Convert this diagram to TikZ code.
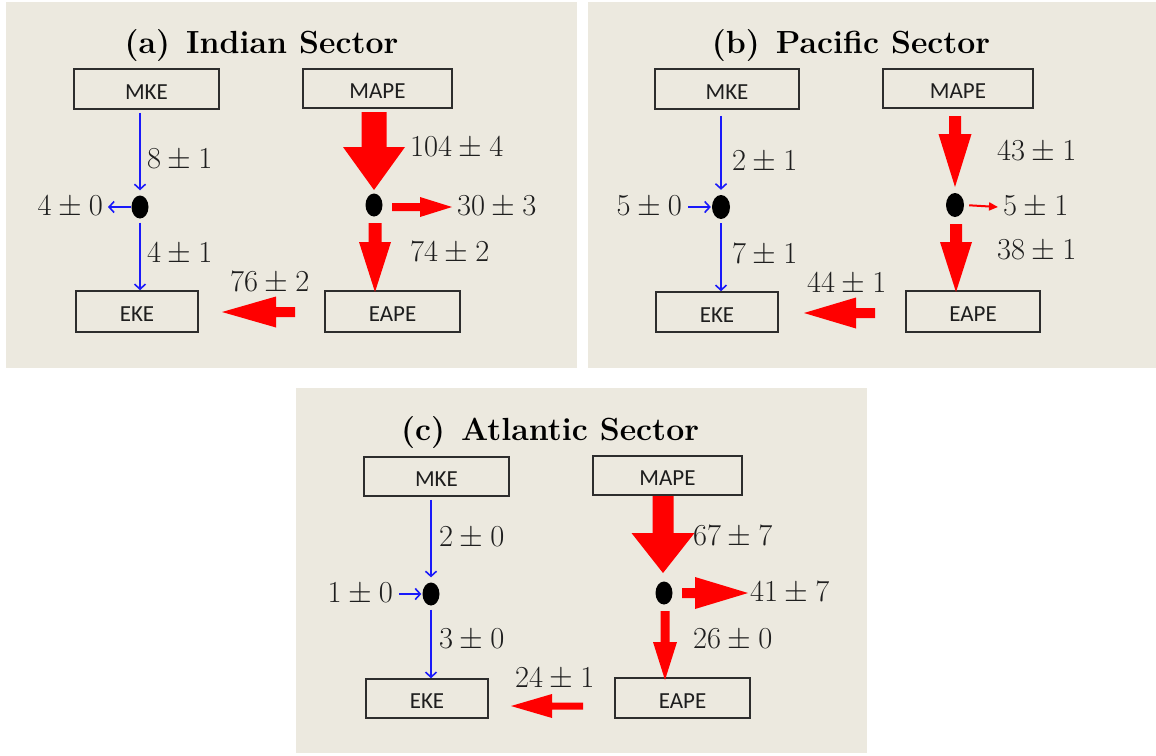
\RequirePackage{fix-cm}
\documentclass[tikz,border=0pt]{standalone}
\usepackage{fontspec}
\newfontfamily\boxfont{Carlito}
\usetikzlibrary{shapes.geometric,arrows.meta}
\definecolor{panelbg}{RGB}{236,233,223}
\definecolor{boxline}{RGB}{45,45,45}
\definecolor{txt}{RGB}{30,30,30}
\definecolor{fatred}{RGB}{255,0,0}
\definecolor{flowblue}{RGB}{25,25,250}
% fat vertical arrow: cx, y0, yhead, ytip, shaft half width, head half width
\newcommand\FatDown[6]{\fill[fatred] ({#1-#5},#2) -- ({#1+#5},#2) -- ({#1+#5},#3) -- ({#1+#6},#3) -- (#1,#4) -- ({#1-#6},#3) -- ({#1-#5},#3) -- cycle;}
% fat horizontal arrow: cy, x0, xhead, xtip, shaft half width, head half width
\newcommand\FatH[6]{\fill[fatred] (#2,{#1-#5}) -- (#3,{#1-#5}) -- (#3,{#1-#6}) -- (#4,#1) -- (#3,{#1+#6}) -- (#3,{#1+#5}) -- (#2,{#1+#5}) -- cycle;}
\begin{document}
\begin{tikzpicture}[x=1pt,y=-1pt,
  box/.style={draw=boxline, line width=1.6pt, inner sep=0pt, text=txt,
    font=\boxfont\fontsize{23}{23}\selectfont, text height=20pt, text depth=0pt},
  dot/.style={ellipse, fill=black, minimum width=17pt, minimum height=23pt, inner sep=0pt},
  lbl/.style={inner sep=0pt, text=txt, font=\fontsize{30.5}{32}\selectfont},
  ttl/.style={inner sep=0pt, anchor=base, text=black, font=\bfseries\fontsize{32}{34}\selectfont},
  barr/.style={draw=flowblue, line width=1.6pt, -{Straight Barb[length=5pt,width=11pt]}},
  thinred/.style={draw=fatred, line width=2pt, -{Triangle[length=9pt,width=8pt]}}
]
\useasboundingbox (0,0) rectangle (1156,755);
\fill[white] (0,0) rectangle (1156,755);
% panel backgrounds
\fill[panelbg] (6,2) rectangle (577,368);
\fill[panelbg] (588,2) rectangle (1156,368);
\fill[panelbg] (296,388) rectangle (867,753);

% ================= (a) Indian Sector =================
\node[ttl] (tA) at (261.5,53) {(a)\hspace{4pt} Indian Sector};
\node[box, minimum width=145pt, minimum height=40pt] (mkeA) at (146.5,89) {MKE};
\node[box, minimum width=149pt, minimum height=39pt] (mapeA) at (377.5,88.5) {MAPE};
\node[box, minimum width=122pt, minimum height=41pt] (ekeA) at (137,311.5) {EKE};
\node[box, minimum width=135pt, minimum height=41pt] (eapeA) at (392.5,311.5) {EAPE};
\node[dot] (dA1) at (140,207) {};
\node[dot] (dA2) at (374,205) {};
\coordinate (oA) at (108,207);
\draw[barr, shorten <=3pt, shorten >=5pt] (mkeA.south -| dA1) -- (dA1.north);
\draw[barr] (dA1.west) -- (oA);
\draw[barr, shorten <=4pt] (dA1.south) -- (dA1.south |- ekeA.north);
\FatDown{374}{112}{147}{190}{12.5}{31}
\FatH{207}{392}{420}{452}{4}{10}
\FatDown{375}{223}{242}{292}{6.5}{16}
\FatH{312}{295}{276}{222}{5}{15.5}
\node[lbl, anchor=west] (lA1) at (147,160) {$8\pm1$};
\node[lbl, anchor=west] (lA2) at (147,254) {$4\pm1$};
\node[lbl, anchor=east] (lA3) at (103,207) {$4\pm0$};
\node[lbl, anchor=west] (lA4) at (410,148) {$104\pm4$};
\node[lbl, anchor=west] (lA5) at (457,207) {$30\pm3$};
\node[lbl, anchor=west] (lA6) at (410,253) {$74\pm2$};
\node[lbl, anchor=west] (lA7) at (230,283) {$76\pm2$};

% ================= (b) Pacific Sector =================
\node[ttl] (tB) at (851,53) {(b)\hspace{4pt} Pacific Sector};
\node[box, minimum width=144pt, minimum height=40pt] (mkeB) at (727,89) {MKE};
\node[box, minimum width=150pt, minimum height=39pt] (mapeB) at (958,88.5) {MAPE};
\node[box, minimum width=122pt, minimum height=40pt] (ekeB) at (717,312) {EKE};
\node[box, minimum width=134pt, minimum height=41pt] (eapeB) at (973,311.5) {EAPE};
\node[dot, minimum width=18pt, minimum height=24pt] (dB1) at (721,207) {};
\node[dot, minimum width=18pt, minimum height=24pt] (dB2) at (955,205) {};
\node[lbl, anchor=east] (lB3) at (682,207) {$5\pm0$};
\draw[barr, shorten <=6pt, shorten >=5pt] (mkeB.south -| dB1) -- (dB1.north);
\draw[barr, shorten <=6pt, shorten >=1pt] (lB3.east) -- (dB1.west);
\draw[barr, shorten <=4pt] (dB1.south) -- (dB1.south |- ekeB.north);
\FatDown{955}{116}{134}{187}{6}{16.5}
\coordinate (oB) at (998,207);
\draw[thinred, shorten <=5pt] (dB2.east) -- (oB);
\FatDown{956}{224}{242}{292}{6}{16}
\FatH{313}{875}{856}{804}{5}{15.5}
\node[lbl, anchor=west] (lB1) at (732,162) {$2\pm1$};
\node[lbl, anchor=west] (lB2) at (732,255) {$7\pm1$};
\node[lbl, anchor=west] (lB4) at (997,152) {$43\pm1$};
\node[lbl, anchor=west] (lB5) at (1003,207) {$5\pm1$};
\node[lbl, anchor=west] (lB6) at (997,251) {$38\pm1$};
\node[lbl, anchor=west] (lB7) at (807,284) {$44\pm1$};

% ================= (c) Atlantic Sector =================
\node[ttl] (tC) at (550,440) {(c)\hspace{4pt} Atlantic Sector};
\node[box, minimum width=145pt, minimum height=39pt] (mkeC) at (436.5,476.5) {MKE};
\node[box, minimum width=149pt, minimum height=39pt] (mapeC) at (667.5,475.5) {MAPE};
\node[box, minimum width=122pt, minimum height=39pt] (ekeC) at (427,698.5) {EKE};
\node[box, minimum width=135pt, minimum height=40pt] (eapeC) at (682.5,698) {EAPE};
\node[dot] (dC1) at (431,594) {};
\node[dot] (dC2) at (664,593) {};
\node[lbl, anchor=east] (lC3) at (393,594) {$1\pm0$};
\draw[barr, shorten <=3pt, shorten >=5pt] (mkeC.south -| dC1) -- (dC1.north);
\draw[barr, shorten <=6pt, shorten >=1pt] (lC3.east) -- (dC1.west);
\draw[barr, shorten <=4pt] (dC1.south) -- (dC1.south |- ekeC.north);
\FatDown{663}{496}{533}{573}{10.5}{31.5}
\FatH{593}{682}{695}{748}{5}{16}
\FatDown{665}{611}{642}{680}{4.5}{12}
\FatH{706}{583}{552}{511}{3.5}{12}
\node[lbl, anchor=west] (lC1) at (439,538) {$2\pm0$};
\node[lbl, anchor=west] (lC2) at (439,640) {$3\pm0$};
\node[lbl, anchor=west] (lC4) at (693,537) {$67\pm7$};
\node[lbl, anchor=west] (lC5) at (750,593) {$41\pm7$};
\node[lbl, anchor=west] (lC6) at (693,640) {$26\pm0$};
\node[lbl, anchor=west] (lC7) at (515,679) {$24\pm1$};
\end{tikzpicture}
\end{document}
